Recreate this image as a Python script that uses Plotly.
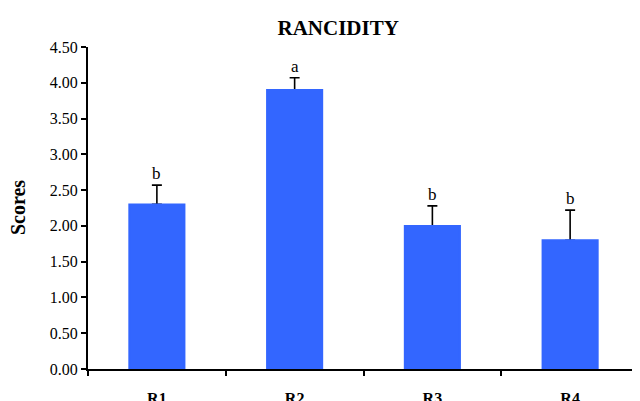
import plotly.graph_objects as go

categories = ["R1", "R2", "R3", "R4"]
scores = [2.30, 3.90, 2.00, 1.80]
errors = [0.27, 0.17, 0.28, 0.42]
letters = ["b", "a", "b", "b"]
y_ticks = [0, 0.5, 1.0, 1.5, 2.0, 2.5, 3.0, 3.5, 4.0, 4.5]

font_family = "Liberation Serif"
bar_color = "#3366FF"

fig = go.Figure()
# bars carrying the (upper) error bars
fig.add_trace(go.Bar(
    x=categories, y=scores,
    marker=dict(color=bar_color, line=dict(width=0)),
    error_y=dict(type="data", array=errors, arrayminus=[0]*len(errors),
                 symmetric=False, color="black", thickness=1.6, width=5),
))
# same bars drawn again on top to hide the lower cap
fig.add_trace(go.Bar(
    x=categories, y=scores,
    marker=dict(color=bar_color, line=dict(color=bar_color, width=2)),
))

for c, v, e, t in zip(categories, scores, errors, letters):
    fig.add_annotation(x=c, y=v + e, text=t, showarrow=False,
                       yanchor="bottom", yshift=0,
                       font=dict(family=font_family, size=17, color="black"))

fig.add_annotation(text="<b>Scores</b>", xref="paper", yref="paper",
                   x=-0.127, y=0.5, showarrow=False, textangle=-90,
                   xanchor="center", yanchor="middle",
                   font=dict(family=font_family, size=20, color="black"))

# page body has an 8px margin, so the figure is sized to fit the window
fig.update_layout(
    width=632, height=393,
    margin=dict(l=80, r=1, t=39, b=32, autoexpand=False),
    paper_bgcolor="white", plot_bgcolor="white",
    bargap=0.6, barmode="overlay",
    showlegend=False,
    title=dict(text="<b>RANCIDITY</b>", x=0.454, xref="paper", xanchor="center",
               y=1 - 20/393, yref="container", yanchor="middle",
               font=dict(family=font_family, size=21, color="black")),
    font=dict(family=font_family, color="black"),
)

fig.update_xaxes(
    automargin=False,
    showline=True, linecolor="black", linewidth=2,
    ticks="outside", tickson="boundaries", ticklen=5, tickwidth=2, tickcolor="black",
    tickfont=dict(family=font_family, size=16, color="black"),
    tickprefix="<b>", ticksuffix="</b>",
    ticklabelstandoff=14,
    showgrid=False, zeroline=False,
)
fig.update_yaxes(
    automargin=False,
    range=[0, 4.5], tickvals=y_ticks, tickformat=".2f",
    showline=True, linecolor="black", linewidth=2,
    ticks="outside", ticklen=5, tickwidth=2, tickcolor="black",
    tickfont=dict(family=font_family, size=16, color="black"),
    tickprefix="<b>", ticksuffix="</b>",
    showgrid=False, zeroline=False,
)

fig.write_html("out.html")
